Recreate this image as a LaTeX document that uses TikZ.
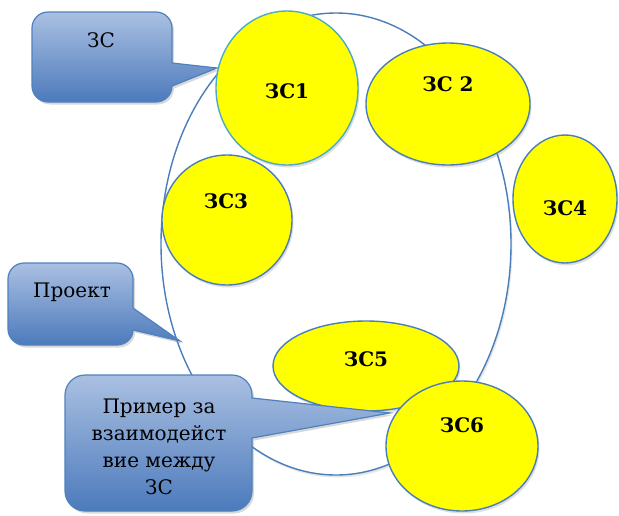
\documentclass[tikz,border=0pt]{standalone}
\usepackage{fontspec}
\setmainfont{DejaVu Serif}
\newfontfamily\cyrserif{DejaVu Serif}
\usetikzlibrary{shapes.geometric,shadows}
\definecolor{zsYellow}{RGB}{255,255,0}
\definecolor{zsBorder}{RGB}{74,126,187}
\definecolor{zsBorderA}{RGB}{75,172,198}
\definecolor{coTop}{RGB}{170,192,226}
\definecolor{coBot}{RGB}{76,122,188}
\definecolor{coBorder}{RGB}{79,129,189}
\begin{document}
\begin{tikzpicture}[x=1pt,y=-1pt,
  zs/.style={ellipse, draw=zsBorder, line width=1.4pt, fill=zsYellow, inner sep=0pt,
    drop shadow={opacity=0.25, shadow xshift=1.5pt, shadow yshift=-2.5pt}},
  zslabel/.style={font=\cyrserif\fontsize{20}{26}\selectfont\bfseries, inner sep=0pt},
  cotext/.style={font=\cyrserif\fontsize{20}{27}\selectfont, align=center, inner sep=0pt},
  callout/.style={draw=coBorder, line width=1.2pt, top color=coTop, bottom color=coBot,
    drop shadow={opacity=0.3, shadow xshift=2pt, shadow yshift=-2.5pt}}]
\useasboundingbox (0,0) rectangle (619,515);

% big ellipse (project)
\node[ellipse, draw=zsBorder, line width=1.4pt, fill=white, inner sep=0pt,
  minimum width=350, minimum height=462,
  drop shadow={opacity=0.2, shadow xshift=1.5pt, shadow yshift=-2.5pt}] (proj) at (336,244) {};

% yellow ellipses
\node[zs, draw=zsBorderA, minimum width=142, minimum height=154] (zs1) at (287,88) {};
\node[zs, minimum width=164, minimum height=122] (zs2) at (448,104) {};
\node[zs, minimum width=130, minimum height=130] (zs3) at (227,220) {};
\node[zs, minimum width=104, minimum height=128] (zs4) at (565,199) {};
\node[zs, minimum width=186, minimum height=90] (zs5) at (366,366) {};

\node[zslabel] (l1) at (287,91) {ЗС1};
\node[zslabel] (l2) at (448,84) {ЗС 2};
\node[zslabel] (l3) at (226,201) {ЗС3};
\node[zslabel] (l4) at (565,208) {ЗС4};
\node[zslabel] (l5) at (366,359) {ЗС5};

% callout tips
\coordinate (tipA) at (217,68);
\coordinate (tipB) at (180,341);
\coordinate (tipC) at (390,413);

% callout 1 (x 32..172, y 12..102, r 16)
\path[callout] (48,12) -- (156,12) .. controls (164.8,12) and (172,19.2) .. (172,28) -- (172,63) -- (tipA)
  -- (172,86) .. controls (172,94.8) and (164.8,102) .. (156,102) -- (48,102)
  .. controls (39.2,102) and (32,94.8) .. (32,86)
  -- (32,28) .. controls (32,19.2) and (39.2,12) .. (48,12) -- cycle;
\node[cotext] (c1) at (101,40) {ЗС};

% callout 2 (x 8..133, y 263..345, r 16)
\path[callout] (24,263) -- (117,263) .. controls (125.8,263) and (133,270.2) .. (133,279) -- (133,308) -- (tipB)
  -- (133,330) .. controls (133,338.3) and (125.8,345) .. (117,345) -- (24,345)
  .. controls (15.2,345) and (8,337.8) .. (8,329)
  -- (8,279) .. controls (8,270.2) and (15.2,263) .. (24,263) -- cycle;
\node[cotext] (c2) at (72,292) {Проект};

% callout 3 (x 65..252, y 375..511, r 20)
\path[callout] (85,375) -- (232,375) .. controls (243,375) and (252,384) .. (252,395) -- (252,398) -- (tipC)
  -- (252,438) -- (252,491) .. controls (252,502) and (243,511) .. (232,511) -- (85,511)
  .. controls (74,511) and (65,502) .. (65,491)
  -- (65,395) .. controls (65,384) and (74,375) .. (85,375) -- cycle;
\node[cotext] (c3) at (159,447) {Пример за\\взаимодейст\\вие между\\ЗС};

% last ellipse on top
\node[zs, minimum width=152, minimum height=130] (zs6) at (462,446) {};
\node[zslabel] (l6) at (462,425) {ЗС6};
\end{tikzpicture}
\end{document}
